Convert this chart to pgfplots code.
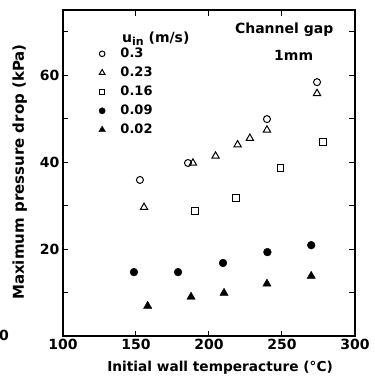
\documentclass[border=0pt]{standalone}
\usepackage{fontspec}
\setmainfont{DejaVu Sans}
\usepackage{pgfplots}
\pgfplotsset{compat=1.18}
\begin{document}
\begin{tikzpicture}
\useasboundingbox (-63pt,-53pt) rectangle (312pt,336pt);
\begin{axis}[
  scale only axis, width=292pt, height=326pt,
  at={(0pt,0pt)}, anchor=south west, clip=false,
  xmin=100, xmax=300, ymin=0, ymax=75,
  xtick={100,150,...,300},
  ytick={0,10,...,70},
  yticklabels={,,20,,40,,60,},
  tick align=inside, major tick length=5.5pt,
  tick style={line width=1pt, black},
  axis line style={line width=1.2pt},
  ticklabel style={font=\bfseries\fontsize{14}{14}\selectfont},
  /pgf/number format/assume math mode=true,
  xlabel={\bfseries Initial wall temperacture (°C)},
  ylabel={\bfseries Maximum pressure drop (kPa)},
  xlabel style={font=\bfseries\fontsize{13.7}{14}\selectfont, at={(axis description cs:0.538,-0.098)}, anchor=center},
  ylabel style={font=\bfseries\fontsize{15}{15}\selectfont, at={(axis description cs:-0.148,0.503)}, anchor=center, rotate=0},
  legend style={at={(axis description cs:0.122,0.89)}, anchor=north west, draw=none, fill=none,
    inner sep=0pt, row sep=3.5pt,
    font=\bfseries\fontsize{13}{13}\selectfont,
    nodes={text height=9.5pt, text depth=2pt, inner sep=2pt},
    legend cell align=left},
  legend image post style={scale=0.8},
]
\addplot[only marks, mark=o, mark size=3.5pt, line width=1pt] coordinates {
(152.7,35.9) (185.6,39.8) (239.7,49.9) (274,58.4)};
\addlegendentry{\rule{13pt}{0pt}0.3}
\addplot[only marks, mark=triangle, mark size=4.2pt, line width=1pt] coordinates {
(155.5,29.6) (189,39.8) (204.5,41.4) (219.6,44.0) (228,45.5) (239.7,47.4) (274,55.8)};
\addlegendentry{\rule{13pt}{0pt}0.23}
\addplot[only marks, mark=square, mark size=3.4pt, line width=1pt] coordinates {
(190.4,28.7) (218.5,31.7) (249,38.6) (278,44.6)};
\addlegendentry{\rule{13pt}{0pt}0.16}
\addplot[only marks, mark=*, mark size=3.9pt, black] coordinates {
(148.6,14.7) (178.8,14.7) (209.6,16.8) (240,19.3) (270,20.9)};
\addlegendentry{\rule{13pt}{0pt}0.09}
\addplot[only marks, mark=triangle*, mark size=4.8pt, black] coordinates {
(158,6.9) (187.7,9.0) (210.3,9.9) (239.7,12.0) (270,13.8)};
\addlegendentry{\rule{13pt}{0pt}0.02}
\node[anchor=base west, inner sep=0pt, font=\bfseries\fontsize{14}{14}\selectfont] at (axis cs:140.4,67.6) {u{\fontsize{11}{11}\selectfont\raisebox{-3pt}{in}} (m/s)};
\node[anchor=center, font=\bfseries\fontsize{14}{14}\selectfont] at (axis cs:251.5,70.4) {Channel gap};
\node[anchor=center, font=\bfseries\fontsize{14}{14}\selectfont] at (axis cs:258,64.6) {1mm};
\node[anchor=center, inner sep=0pt, font=\bfseries\fontsize{14}{14}\selectfont] at (axis cs:59.6,0.2) {0};
\end{axis}
\end{tikzpicture}
\end{document}
